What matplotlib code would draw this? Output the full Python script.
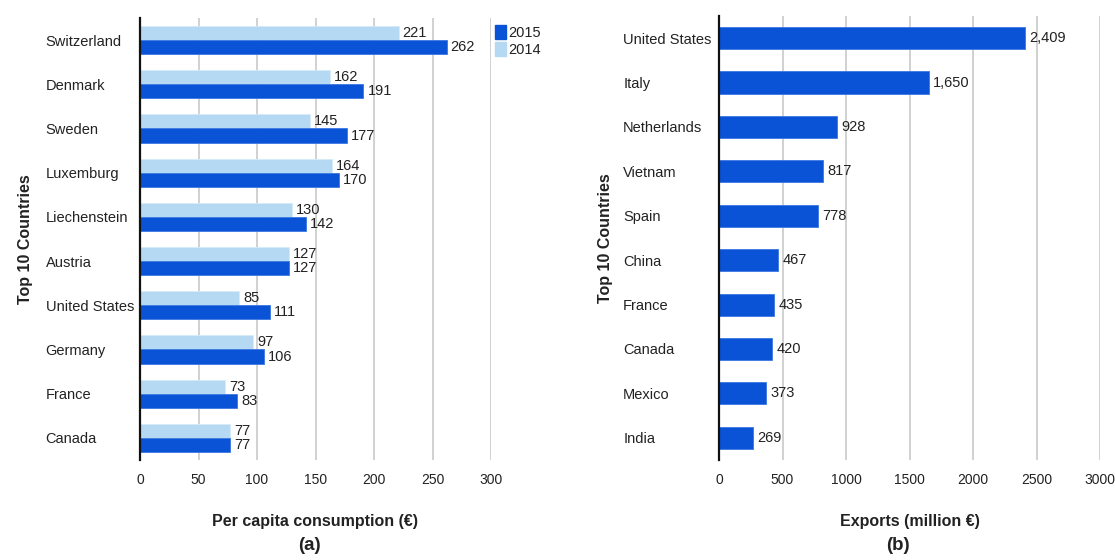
import matplotlib
matplotlib.use("Agg")
import matplotlib.pyplot as plt
from matplotlib.patches import Patch

plt.rcParams['font.family'] = ['Liberation Sans', 'DejaVu Sans']

# Panel (a): per capita consumption
countries_a = ["Switzerland", "Denmark", "Sweden", "Luxemburg", "Liechenstein",
               "Austria", "United States", "Germany", "France", "Canada"]
values_2015 = [262, 191, 177, 170, 142, 127, 111, 106, 83, 77]
values_2014 = [221, 162, 145, 164, 130, 127, 85, 97, 73, 77]
ticks_a = [0, 50, 100, 150, 200, 250, 300]

# Panel (b): exports
countries_b = ["United States", "Italy", "Netherlands", "Vietnam", "Spain",
               "China", "France", "Canada", "Mexico", "India"]
exports = [2409, 1650, 928, 817, 778, 467, 435, 420, 373, 269]
ticks_b = [0, 500, 1000, 1500, 2000, 2500, 3000]

DARK = "#0b53d6"
LIGHT = "#b5d9f2"
TXT = "#222222"
GRID = "#c9c9c9"

fig = plt.figure(figsize=(11.15, 5.6), dpi=100)
ax1 = fig.add_axes([140/1115, 1-460/560, (491-140)/1115, (460-18)/560])
ax2 = fig.add_axes([719/1115, 1-460/560, (1100-719)/1115, (460-16)/560])


def style(ax, ticks, ypad):
    ax.set_xlim(ticks[0], ticks[-1])
    ax.set_ylim(9.5, -0.5)
    ax.set_xticks(ticks)
    ax.set_xticklabels([str(t) for t in ticks], fontsize=10, color=TXT)
    ax.tick_params(axis='x', length=0, pad=9)
    ax.tick_params(axis='y', length=0, pad=ypad, labelsize=10.5, labelcolor=TXT)
    for s in ["top", "right", "bottom"]:
        ax.spines[s].set_visible(False)
    ax.spines["left"].set_color("#111111")
    ax.spines["left"].set_linewidth(1.6)
    ax.spines["left"].set_zorder(5)
    for t in ticks[1:]:
        ax.axvline(t, color=GRID, lw=1.2, zorder=0)
    for lab in ax.get_yticklabels():
        lab.set_horizontalalignment("left")


# Panel (a)
pos = list(range(len(countries_a)))
h = 0.32
b14 = ax1.barh([p - h/2 for p in pos], values_2014, height=h, color=LIGHT,
               edgecolor="#d6ebf8", lw=0.6, zorder=2, label="2014")
b15 = ax1.barh([p + h/2 for p in pos], values_2015, height=h, color=DARK,
               edgecolor="#3b78e0", lw=0.6, zorder=2, label="2015")
ax1.bar_label(b14, labels=[str(v) for v in values_2014], padding=3,
              fontsize=10.5, color=TXT)
ax1.bar_label(b15, labels=[str(v) for v in values_2015], padding=3,
              fontsize=10.5, color=TXT)
ax1.set_yticks(pos)
ax1.set_yticklabels(countries_a)
style(ax1, ticks_a, 68)
ax1.set_ylabel("Top 10 Countries", fontsize=11.5, fontweight="bold", labelpad=9,
               color=TXT)
ax1.set_xlabel("Per capita consumption (€)", fontsize=11.5, fontweight="bold",
               labelpad=20, color=TXT)
ax1.legend(handles=[Patch(color=DARK, label="2015"), Patch(color=LIGHT, label="2014")],
           loc="upper left", bbox_to_anchor=(1.0, 0.995), frameon=False,
           fontsize=10.5, handlelength=0.7, handleheight=1.1, handletextpad=0.2,
           labelspacing=0.15, borderaxespad=0.2, borderpad=0.1,
           labelcolor=TXT)
fig.text((140+491)/2/1115 - 0.005, 1-546/560, "(a)", ha="center", va="center",
         fontsize=13.5, fontweight="bold", color=TXT)

# Panel (b)
pos_b = list(range(len(countries_b)))
bb = ax2.barh(pos_b, exports, height=0.5, color=DARK, edgecolor="#3b78e0",
              lw=0.6, zorder=2)
ax2.bar_label(bb, labels=[f"{v:,}" for v in exports], padding=3,
              fontsize=10.5, color=TXT)
ax2.set_yticks(pos_b)
ax2.set_yticklabels(countries_b)
style(ax2, ticks_b, 69)
ax2.set_ylabel("Top 10 Countries", fontsize=11.5, fontweight="bold", labelpad=7,
               color=TXT)
ax2.set_xlabel("Exports (million €)", fontsize=11.5, fontweight="bold",
               labelpad=20, color=TXT)
fig.text((719+1100)/2/1115 - 0.01, 1-546/560, "(b)", ha="center", va="center",
         fontsize=13.5, fontweight="bold", color=TXT)

fig.savefig("out.png", dpi=100, facecolor="white")
